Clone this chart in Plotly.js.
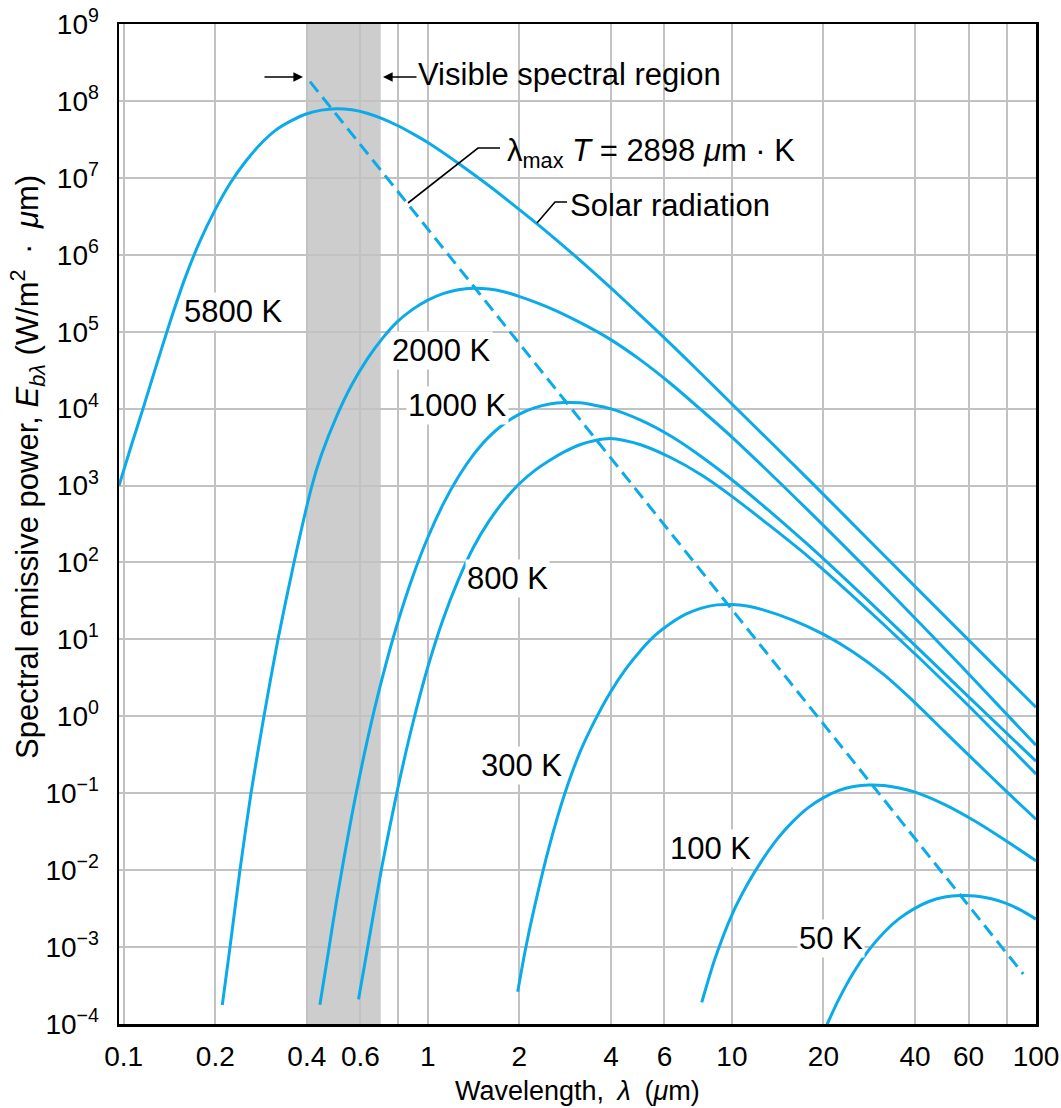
<!DOCTYPE html>
<html><head><meta charset="utf-8">
<script src="https://cdn.plot.ly/plotly-3.0.1.min.js"></script>
<style>html,body{margin:0;padding:0;background:#fff;} #chart{width:1061px;height:1108px;}</style>
</head><body><div id="chart"></div>
<script>
// Wavelength (µm) and spectral emissive power (W/m²·µm)
const lam5800 = [0.0965, 0.1059, 0.1157, 0.1259, 0.1413, 0.1585, 0.1778, 0.1995, 0.2239, 0.2512, 0.2818, 0.3162, 0.3548, 0.3981, 0.4467, 0.5012, 0.5623, 0.6310, 0.7079, 0.7943, 0.8913, 1.0, 1.259, 1.585, 1.995, 2.512, 3.162, 3.981, 5.012, 6.310, 7.943, 10, 17.78, 31.62, 56.23, 100];
const e5800   = [1.00e3, 3.31e3, 1.00e4, 2.95e4, 1.26e5, 4.79e5, 1.48e6, 3.80e6, 8.51e6, 1.62e7, 2.75e7, 4.17e7, 5.50e7, 6.76e7, 7.59e7, 7.94e7, 7.67e7, 6.92e7, 5.89e7, 4.79e7, 3.76e7, 2.88e7, 1.55e7, 7.94e6, 3.89e6, 1.86e6, 8.51e5, 3.76e5, 1.62e5, 6.84e4, 2.82e4, 1.15e4, 1.22e3, 124, 12.7, 1.31];

const lam2000 = [0.2109, 0.2236, 0.2411, 0.2621, 0.2891, 0.3215, 0.3630, 0.4159, 0.4467, 0.5012, 0.5623, 0.6310, 0.7079, 0.7943, 0.8913, 1.0, 1.122, 1.259, 1.413, 1.585, 1.778, 1.995, 2.512, 3.162, 3.981, 5.012, 6.310, 7.943, 10, 17.78, 31.62, 56.23, 100];
const e2000   = [1.77e-4, 1e-3, 1e-2, 0.1, 1, 10, 100, 1000, 2.51e3, 7.94e3, 2.04e4, 4.37e4, 8.13e4, 1.35e5, 1.95e5, 2.57e5, 3.13e5, 3.51e5, 3.67e5, 3.59e5, 3.31e5, 2.88e5, 2.04e5, 1.32e5, 7.94e4, 4.27e4, 2.09e4, 9.55e3, 4.27e3, 479, 49.0, 4.68, 0.420];

const lam1000 = [0.4416, 0.4677, 0.5012, 0.5623, 0.6310, 0.7079, 0.7943, 0.8913, 1.0, 1.122, 1.259, 1.413, 1.585, 1.778, 1.995, 2.239, 2.512, 2.818, 3.162, 3.981, 5.012, 6.310, 7.943, 10, 17.78, 31.62, 56.23, 100];
const e1000   = [1.78e-4, 7.28e-4, 4.04e-3, 0.0514, 0.468, 3.13, 16.1, 64.9, 211, 568, 1288, 2518, 4266, 6310, 8414, 1.02e4, 1.15e4, 1.20e4, 1.19e4, 1.00e4, 7079, 4365, 2371, 1189, 170, 20.4, 2.29, 0.261];

const lam800 = [0.5916, 0.6310, 0.7079, 0.7943, 0.8913, 1.0, 1.122, 1.259, 1.413, 1.585, 1.778, 1.995, 2.239, 2.512, 2.818, 3.162, 3.548, 3.981, 4.467, 5.012, 6.310, 7.943, 10, 17.78, 31.62, 56.23, 100];
const e800   = [2.09e-4, 8.91e-4, 0.0117, 0.110, 0.794, 4.37, 18.2, 58.9, 158, 339, 631, 1047, 1549, 2113, 2754, 3388, 3846, 4074, 3819, 3388, 2296, 1371, 724, 120, 15.5, 1.77, 0.178];

const lam300 = [1.975, 2.089, 2.239, 2.512, 2.818, 3.162, 3.548, 3.981, 4.467, 5.012, 5.623, 6.310, 7.079, 7.943, 8.913, 10, 11.22, 12.59, 15.85, 19.95, 25.12, 31.62, 39.81, 50.12, 63.10, 79.43, 100];
const e300   = [2.63e-4, 8.91e-4, 3.24e-3, 0.0209, 0.0977, 0.339, 0.891, 2.04, 4.07, 7.19, 11.5, 16.3, 21.4, 25.5, 28.1, 28.4, 27.1, 24.4, 17.8, 11.7, 6.82, 3.48, 1.53, 0.628, 0.260, 0.108, 0.0459];

const lam100 = [7.959, 8.80, 10, 11.22, 12.59, 14.13, 15.85, 17.78, 19.95, 22.39, 25.12, 28.18, 31.62, 35.48, 39.81, 50.12, 63.10, 79.43, 100];
const e100   = [1.91e-4, 7.08e-4, 2.63e-3, 6.46e-3, 0.0136, 0.0257, 0.0427, 0.0646, 0.0871, 0.108, 0.122, 0.128, 0.126, 0.117, 0.104, 0.0711, 0.0432, 0.0243, 0.0132];

const lam50 = [19.95, 22.39, 25.12, 28.18, 31.62, 35.48, 39.81, 44.67, 50.12, 56.23, 63.10, 70.79, 79.43, 89.13, 100];
const e50   = [7.59e-5, 2.04e-4, 4.68e-4, 9.12e-4, 1.55e-3, 2.34e-3, 3.16e-3, 3.94e-3, 4.47e-3, 4.68e-3, 4.62e-3, 4.27e-3, 3.72e-3, 3.02e-3, 2.31e-3];

// Wien displacement line (lambda_max T = 2898 µm·K), dashed
const lamWien = [0.4098, 90.8];
const eWien   = [1.78e8, 4.47e-4];

// Visible band (µm)
const visibleBand = [0.4, 0.7];

// Axis ticks
const xTickVals = [0.1, 0.2, 0.4, 0.6, 0.8, 1, 2, 4, 6, 10, 20, 40, 60, 80, 100];
const xTickText = ['0.1', '0.2', '0.4', '0.6', '', '1', '2', '4', '6', '10', '20', '40', '60', '', '100'];
const yExponents = [-4, -3, -2, -1, 0, 1, 2, 3, 4, 5, 6, 7, 8, 9];

const curveColor = '#0AABE8';
const FONT = 'Liberation Sans, Arial, Helvetica, sans-serif';

function curve(x, y) {
  return {x: x, y: y, type: 'scatter', mode: 'lines', hoverinfo: 'skip', showlegend: false,
          line: {color: curveColor, width: 3, shape: 'spline', smoothing: 0.7}};
}

const traces = [
  curve(lam5800, e5800), curve(lam2000, e2000), curve(lam1000, e1000), curve(lam800, e800),
  curve(lam300, e300), curve(lam100, e100), curve(lam50, e50),
  {x: lamWien, y: eWien, type: 'scatter', mode: 'lines', hoverinfo: 'skip', showlegend: false,
   line: {color: curveColor, width: 3, dash: '13px,7px'}}
];

const yTickVals = yExponents.map(e => Math.pow(10, e));
const yTickText = yExponents.map(e => '10<sup>' + (e < 0 ? '\u2212' + (-e) : e) + '</sup>');

// pixel -> paper helpers for annotation placement
const L = 119, R = 1036, T = 24, B = 1024;
const px = v => (v - L) / (R - L);
const py = v => (B - v) / (B - T);
const ANN = 31;

function label(text, cx, cy) {
  return {text: text, xref: 'paper', yref: 'paper', x: px(cx), y: py(cy), xanchor: 'center', yanchor: 'middle',
          showarrow: false, bgcolor: '#ffffff', borderpad: 1, font: {family: FONT, size: ANN, color: '#000'}};
}

const annotations = [
  label('5800 K', 233, 311), label('2000 K', 441, 351), label('1000 K', 457, 405), label('800 K', 507, 578),
  label('300 K', 521, 765), label('100 K', 710, 848), label('50 K', 831, 938),
  {text: 'Visible spectral region', xref: 'paper', yref: 'paper', x: px(416), y: py(74), xanchor: 'left', yanchor: 'middle',
   showarrow: false, font: {family: FONT, size: ANN, color: '#000'}},
  {text: '\u03bb<sub>max</sub> <i>T</i> = 2898 <i>\u03bc</i>m \u00b7 K', xref: 'paper', yref: 'paper', x: px(505), y: py(153),
   xanchor: 'left', yanchor: 'middle', showarrow: false, font: {family: FONT, size: ANN, color: '#000'}},
  {text: 'Solar radiation', xref: 'paper', yref: 'paper', x: px(568), y: py(205), xanchor: 'left', yanchor: 'middle',
   showarrow: false, font: {family: FONT, size: ANN, color: '#000'}},
  // arrows pointing at the visible band edges
  {text: '', xref: 'paper', yref: 'paper', x: px(303), y: py(77), ax: -40, ay: 0, showarrow: true,
   arrowhead: 2, arrowsize: 1.2, arrowwidth: 1.6, arrowcolor: '#000'},
  {text: '', xref: 'paper', yref: 'paper', x: px(383), y: py(77), ax: 35, ay: 0, showarrow: true,
   arrowhead: 2, arrowsize: 1.2, arrowwidth: 1.6, arrowcolor: '#000'},
  // axis titles
  {text: 'Spectral emissive power, <i>E</i><sub><i>b\u03bb</i></sub> (W/m<sup>2</sup>\u2002\u00b7\u2002<i>\u03bc</i>m)', xref: 'paper', yref: 'paper',
   x: px(28), y: py(467), xanchor: 'center', yanchor: 'middle', textangle: -90, showarrow: false,
   font: {family: FONT, size: 31, color: '#000'}},
  {text: 'Wavelength,\u2002<i>\u03bb</i>\u2002(<i>\u03bc</i>m)', xref: 'paper', yref: 'paper', x: px(577), y: py(1091),
   xanchor: 'center', yanchor: 'middle', showarrow: false, font: {family: FONT, size: 27, color: '#000'}}
];

const shapes = [
  {type: 'rect', xref: 'x', yref: 'paper', x0: visibleBand[0], x1: visibleBand[1], y0: 0, y1: 1,
   fillcolor: '#CDCDCD', line: {width: 0}, layer: 'below'},
  {type: 'path', xref: 'paper', yref: 'paper',
   path: 'M ' + px(408) + ' ' + py(203) + ' L ' + px(478) + ' ' + py(148) + ' L ' + px(500) + ' ' + py(148),
   line: {color: '#000', width: 1.6}},
  {type: 'path', xref: 'paper', yref: 'paper',
   path: 'M ' + px(537) + ' ' + py(223) + ' L ' + px(555) + ' ' + py(202) + ' L ' + px(567) + ' ' + py(202),
   line: {color: '#000', width: 1.6}}
];

const layout = {
  width: 1061, height: 1108,
  margin: {l: L, r: 1061 - R, t: T, b: 1108 - B},
  paper_bgcolor: '#ffffff', plot_bgcolor: '#ffffff',
  font: {family: FONT, color: '#000'},
  showlegend: false,
  xaxis: {type: 'log', range: [-1.0156, 2], tickmode: 'array', tickvals: xTickVals, ticktext: xTickText,
          showgrid: true, gridcolor: '#C2C2C2', gridwidth: 2, zeroline: false,
          showline: true, linecolor: '#000', linewidth: 2.5, mirror: true, ticks: '',
          ticklabelstandoff: 6, tickfont: {family: FONT, size: 28, color: '#000'}},
  yaxis: {type: 'log', range: [-4, 9], tickmode: 'array', tickvals: yTickVals, ticktext: yTickText,
          showgrid: true, gridcolor: '#C2C2C2', gridwidth: 2, zeroline: false,
          showline: true, linecolor: '#000', linewidth: 2.5, mirror: true, ticks: '',
          ticklabelstandoff: 12, tickfont: {family: FONT, size: 28, color: '#000'}},
  shapes: shapes,
  annotations: annotations
};

Plotly.newPlot('chart', traces, layout, {staticPlot: true, displayModeBar: false});
</script></body></html>
